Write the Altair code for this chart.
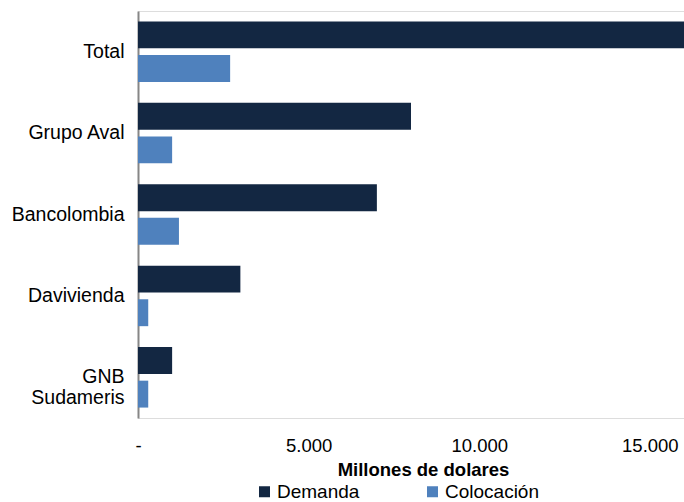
import altair as alt
import pandas as pd

categories = ["Total", "Grupo Aval", "Bancolombia", "Davivienda", "GNB Sudameris"]
demanda = [16000, 8000, 7000, 3000, 1000]
colocacion = [2700, 1000, 1200, 300, 300]
series = ["Demanda", "Colocación"]
colors = ["#132742", "#4F81BD"]

rows = []
for c, d, k in zip(categories, demanda, colocacion):
    rows.append({"cat": c, "serie": series[0], "valor": d})
    rows.append({"cat": c, "serie": series[1], "valor": k})
df = pd.DataFrame(rows)

FONT = "Liberation Sans"
NB = "\u00a0" * 5

chart = alt.Chart(df).mark_bar(clip=True).encode(
    y=alt.Y("cat:N", sort=categories,
            scale=alt.Scale(paddingInner=0, paddingOuter=0),
            axis=alt.Axis(title=None, ticks=False, domainColor="#868686", domainWidth=2,
                          labelFont=FONT, labelFontSize=19.5, labelColor="#000000",
                          labelPadding=14, labelLineHeight=21, labelLimit=200,
                          labelExpr=f"datum.label == 'GNB Sudameris' ? ['GNB{NB}', 'Sudameris'] : datum.label")),
    yOffset=alt.YOffset("serie:N", sort=series,
                        scale=alt.Scale(paddingInner=0.2, paddingOuter=0.31)),
    x=alt.X("valor:Q", scale=alt.Scale(domain=[0, 16000], nice=False),
            axis=alt.Axis(title="Millones de dolares", values=[0, 5000, 10000, 15000],
                          grid=False, domain=False, ticks=False,
                          labelFont=FONT, labelFontSize=18.5, labelColor="#000000",
                          labelBaseline="alphabetic", labelPadding=33, labelFlush=False,
                          labelExpr="datum.value == 0 ? '-' : replace(format(datum.value, ','), ',', '.')",
                          titleFont=FONT, titleFontSize=18.5, titleFontWeight="bold",
                          titleColor="#000000", titleX=285, titleY=57,
                          titleBaseline="alphabetic")),
    color=alt.Color("serie:N", sort=series,
                    scale=alt.Scale(domain=series, range=colors),
                    legend=alt.Legend(title=None, orient="none", direction="horizontal",
                                      legendX=117, legendY=471, padding=0,
                                      symbolType="square", symbolSize=121,
                                      symbolStrokeWidth=0, labelOffset=3,
                                      columnPadding=63,
                                      labelFont=FONT, labelFontSize=19,
                                      labelColor="#000000")),
).properties(
    width=546, height=407,
    autosize=alt.AutoSizeParams(type="none"),
    padding={"left": 138, "top": 11, "right": 0, "bottom": 84},
).configure_view(stroke=None).configure(background="white")

chart.save("out.html", embed_options={"renderer": "svg", "actions": False})
